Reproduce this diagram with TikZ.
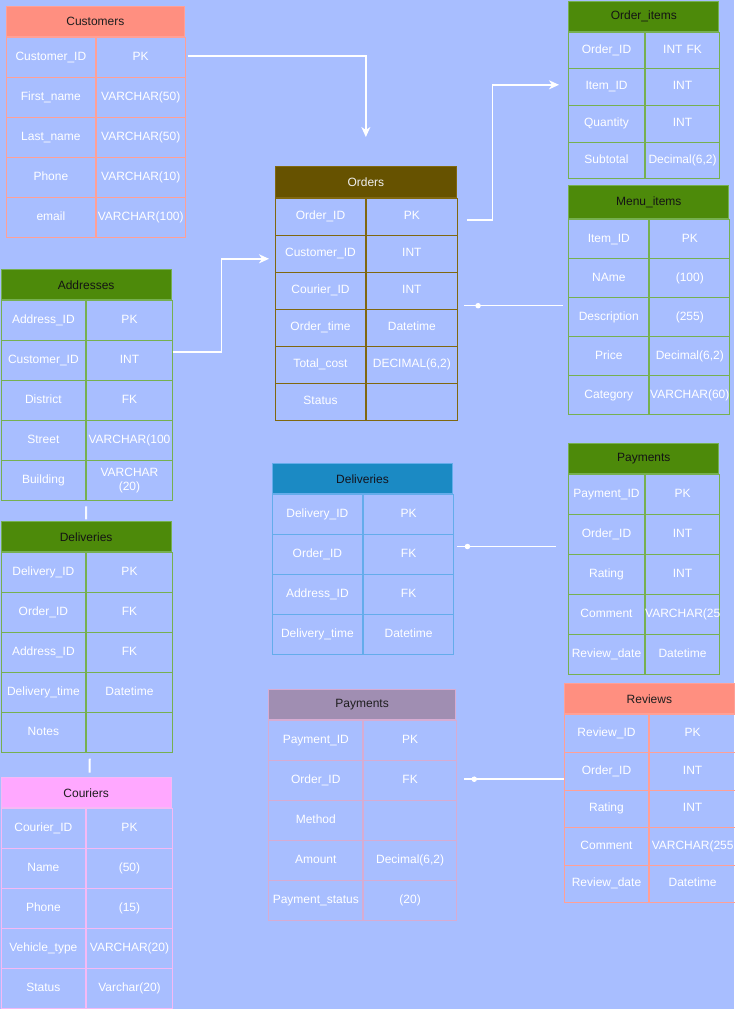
\documentclass[tikz,border=0pt]{standalone}
\usepackage{fontspec}
\setmainfont{Liberation Sans}
\usetikzlibrary{arrows.meta, calc}

\definecolor{bgblue}{RGB}{168,190,255}
\definecolor{salmonfill}{RGB}{255,143,128}
\definecolor{salmonline}{RGB}{255,160,150}
\definecolor{salmontext}{RGB}{30,30,30}
\definecolor{greenfill}{RGB}{77,138,10}
\definecolor{greenline}{RGB}{118,176,80}
\definecolor{greentext}{RGB}{20,20,20}
\definecolor{brownfill}{RGB}{102,82,0}
\definecolor{brownline}{RGB}{128,104,16}
\definecolor{browntext}{RGB}{240,240,240}
\definecolor{bluefill}{RGB}{27,138,196}
\definecolor{blueline}{RGB}{100,172,235}
\definecolor{bluetext}{RGB}{20,20,30}
\definecolor{mauvefill}{RGB}{160,142,178}
\definecolor{mauveline}{RGB}{215,172,210}
\definecolor{mauvetext}{RGB}{30,30,30}
\definecolor{pinkfill}{RGB}{255,168,255}
\definecolor{pinkline}{RGB}{245,185,245}
\definecolor{pinktext}{RGB}{30,30,30}

% one table: colour set, name, top left, column widths, header height, row height, title, rows
\newcommand{\dbtable}[9]{%
  \node[head, fill=#1fill, draw=#1line, text=#1text, minimum width={#4pt+#5pt}, minimum height=#6pt] (#2-h) at (#3) {#8};
  \foreach \k/\v [count=\i] in {#9} {
    \node[cell, draw=#1line, text width=#4pt, minimum height=#7pt] (#2-k\i) at ($(#2-h.south west)+(0,{(\i-1)*#7})$) {\k};
    \node[cell, draw=#1line, text width=#5pt, minimum height=#7pt] (#2-v\i) at (#2-k\i.north east) {\v};
  }%
}

\begin{document}
\begin{tikzpicture}[x=1pt, y=-1pt, font=\fontsize{12}{14}\selectfont,
    head/.style={rectangle, anchor=north west, inner sep=0pt, line width=1pt},
    cell/.style={rectangle, anchor=north west, inner xsep=0pt, inner ysep=0pt, align=center, text=white, line width=1pt,
        execute at begin node=\strut, execute at end node=\strut},
    conn/.style={draw=white, line width=1.5pt},
    arr/.style={conn, -{Stealth[length=10pt, width=9pt, inset=3pt]}},
    dot/.style={circle, fill=white, inner sep=0pt, minimum size=5.5pt}]
    % page
    \fill[bgblue] (0,0) rectangle (734,1009);
    \useasboundingbox (0,0) rectangle (734,1009);

    % tables
    \dbtable{salmon}{cust}{6,6}{88.7}{89}{30}{40}{Customers}{Customer\_ID/PK, First\_name/VARCHAR(50), Last\_name/VARCHAR(50), Phone/VARCHAR(10), email/VARCHAR(100)}
    \dbtable{brown}{ord}{275,166}{90}{90.7}{30.7}{37}{Orders}{Order\_ID/PK, Customer\_ID/INT, Courier\_ID/INT, Order\_time/Datetime, Total\_cost/{DECIMAL(6,2)}, Status/{}}
    \dbtable{green}{oi}{568.3,0.5}{75.4}{74.6}{30.2}{36.6}{Order\_items}{Order\_ID/INT FK, Item\_ID/INT, Quantity/INT, Subtotal/{Decimal(6,2)}}
    \dbtable{green}{mi}{568.3,185.3}{80}{80}{33}{39}{Menu\_items}{Item\_ID/PK, NAme/(100), Description/(255), Price/{Decimal(6,2)}, Category/VARCHAR(60)}
    \dbtable{green}{addr}{0.5,269.3}{84.8}{85.4}{30}{40}{Addresses}{Address\_ID/PK, Customer\_ID/INT, District/FK, Street/VARCHAR(100, Building/{VARCHAR\\(20)}}
    \dbtable{green}{dl}{0.5,521.3}{84.8}{85.4}{30}{40}{Deliveries}{Delivery\_ID/PK, Order\_ID/FK, Address\_ID/FK, Delivery\_time/Datetime, Notes/{}}
    \dbtable{pink}{cr}{0.5,777.3}{84.8}{85.4}{30}{40}{Couriers}{Courier\_ID/PK, Name/(50), Phone/(15), Vehicle\_type/VARCHAR(20), Status/Varchar(20)}
    \dbtable{blue}{dm}{271.7,463.3}{90.3}{90.3}{30}{40}{Deliveries}{Delivery\_ID/PK, Order\_ID/FK, Address\_ID/FK, Delivery\_time/Datetime}
    \dbtable{green}{pr}{568.3,443.3}{75.4}{74.6}{30}{40}{Payments}{Payment\_ID/PK, Order\_ID/INT, Rating/INT, Comment/VARCHAR(25, Review\_date/Datetime}
    \dbtable{mauve}{pm}{268.3,689.3}{94}{92.7}{30}{40}{Payments}{Payment\_ID/PK, Order\_ID/FK, Method/{}, Amount/{Decimal(6,2)}, Payment\_status/(20)}
    \dbtable{salmon}{rv}{563.7,683.3}{84.6}{85.7}{30}{37.6}{Reviews}{Review\_ID/PK, Order\_ID/INT, Rating/INT, Comment/VARCHAR(255, Review\_date/Datetime}

    % arrows into Orders and Order_items
    \draw[arr, shorten >=29pt] ([xshift=2pt, yshift=1.7pt]cust-v1.east) -| (ord-h.north);
    \draw[arr, shorten >=6pt] ([yshift=8.6pt]addr-v2.east) -- ++(48.6,0) |- ([yshift=-5.1pt]ord-k2.west);
    \draw[arr, shorten >=9.3pt] ([xshift=9.3pt, yshift=-3.1pt]ord-v1.east) -- ++(25.3,0) |- ([yshift=2.3pt]oi-k2.west);

    % plain links with a dot
    \coordinate (om) at ([xshift=6.3pt, yshift=4pt]ord-v3.south east);
    \draw[conn, shorten >=5.6pt] (om) -- (om -| mi-k3.west) node[dot, pos=0.135] (dot1) {};
    \coordinate (dp) at ([xshift=2.7pt, yshift=8.3pt]dm-v2.east);
    \draw[conn, shorten >=12.3pt] (dp) -- (dp -| pr-k2.west) node[dot, pos=0.094] (dot2) {};
    \coordinate (pr) at ([xshift=7.3pt, yshift=1.6pt]pm-v2.east);
    \draw[conn] (pr) -- (pr -| rv-k2.west) node[dot, pos=0.1] (dot3) {};

    % short links on the left
    \draw[conn, white!90!bgblue, line width=2pt, shorten <=5pt, shorten >=2pt] (addr-k5.south east) -- (dl-h.north);
    \draw[conn, line width=2pt, shorten <=5.4pt, shorten >=4.6pt] ([xshift=3.5pt]dl-k5.south east) -- ([xshift=3.5pt]cr-h.north);
\end{tikzpicture}
\end{document}
